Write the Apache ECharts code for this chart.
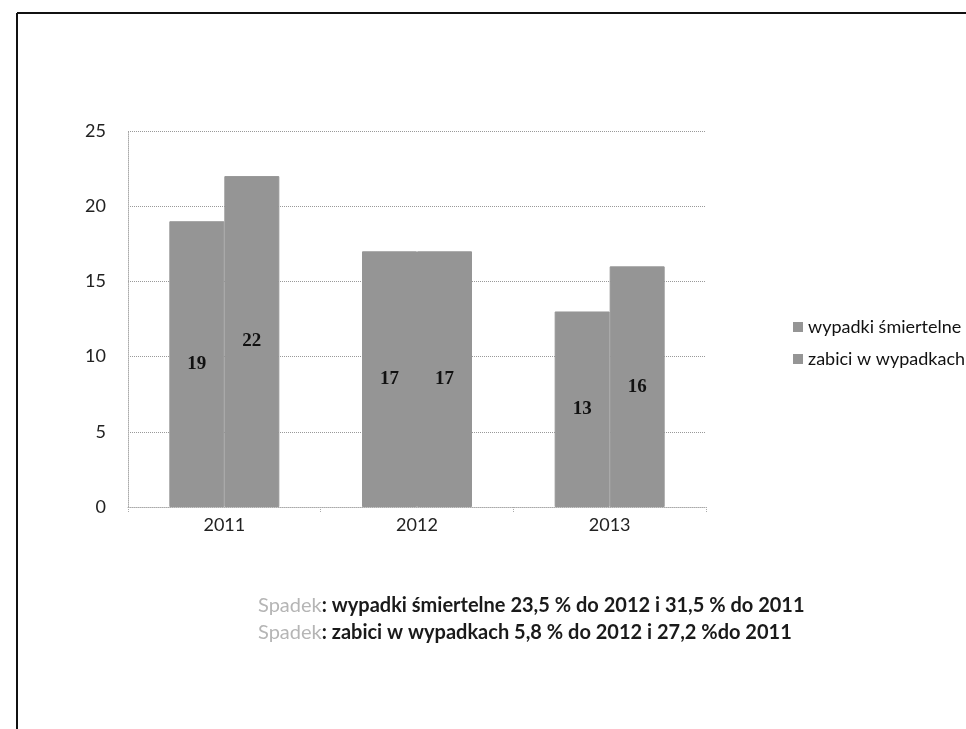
<!DOCTYPE html>
<html>
<head>
<meta charset="utf-8">
<script src="https://cdn.jsdelivr.net/npm/echarts@6/dist/echarts.min.js"></script>
<style>
  html, body { margin: 0; padding: 0; background: #fff; }
  #chart { width: 966px; height: 729px; }
</style>
</head>
<body>
<div id="chart"></div>
<script>
const years = ['2011', '2012', '2013'];
const wypadki = [19, 17, 13];
const zabici = [22, 17, 16];
const seriesNames = ['wypadki śmiertelne', 'zabici w wypadkach'];
const yTicks = { min: 0, max: 25, interval: 5 };

const chart = echarts.init(document.getElementById('chart'));

const barColor = '#959595';
const font = 'Lato, "Open Sans", sans-serif';

const barLabel = {
  show: true,
  position: 'inside',
  color: '#111',
  fontFamily: '"Liberation Serif", serif',
  fontWeight: 'bold',
  fontSize: 19
};

// the "Spadek" word is faint in the original, the rest is dark bold
const noteStyle = {
  g: { fill: '#b5b5b5', fontSize: 20, fontFamily: font },
  b: { fill: '#1a1a1a', fontSize: 20, fontWeight: 'bold', fontFamily: font }
};

const option = {
  backgroundColor: '#fff',
  animation: false,
  legend: {
    data: seriesNames,
    orient: 'vertical',
    left: 788,
    top: 313,
    itemWidth: 10,
    itemHeight: 10,
    itemGap: 14,
    icon: 'rect',
    itemStyle: { borderWidth: 0 },
    textStyle: { color: '#111', fontSize: 18, fontFamily: font }
  },
  grid: { left: 128, right: 260, top: 131, bottom: 222 },
  xAxis: {
    type: 'category',
    data: years,
    axisLine: { lineStyle: { color: '#aaa', type: 'dotted' } },
    axisTick: { show: true, lineStyle: { color: '#aaa', type: 'dotted' } },
    axisLabel: { color: '#222', fontSize: 18, fontFamily: font, margin: 9 }
  },
  yAxis: {
    type: 'value',
    min: yTicks.min,
    max: yTicks.max,
    interval: yTicks.interval,
    axisLine: { show: true, lineStyle: { color: '#aaa', type: 'dotted' } },
    axisTick: { show: false },
    axisLabel: { color: '#222', fontSize: 18, fontFamily: font, margin: 22 },
    splitLine: { lineStyle: { color: '#999', type: 'dotted' } }
  },
  series: [
    {
      name: seriesNames[0],
      type: 'bar',
      data: wypadki,
      barWidth: 55,
      barGap: '0%',
      itemStyle: { color: barColor, borderColor: barColor, borderWidth: 1 },
      label: barLabel
    },
    {
      name: seriesNames[1],
      type: 'bar',
      data: zabici,
      barWidth: 55,
      itemStyle: { color: barColor, borderColor: barColor, borderWidth: 1 },
      label: barLabel
    }
  ],
  graphic: [
    { type: 'line', shape: { x1: 17, y1: 13, x2: 966, y2: 13 }, style: { stroke: '#111', lineWidth: 2 } },
    { type: 'line', shape: { x1: 17, y1: 13, x2: 17, y2: 729 }, style: { stroke: '#111', lineWidth: 2 } },
    {
      type: 'text',
      left: 258,
      top: 596,
      style: {
        text: '{g|Spadek}{b|: wypadki śmiertelne 23,5 % do 2012 i 31,5 % do 2011}',
        rich: noteStyle
      }
    },
    {
      type: 'text',
      left: 258,
      top: 623,
      style: {
        text: '{g|Spadek}{b|: zabici w wypadkach 5,8 % do 2012 i 27,2 %do 2011}',
        rich: noteStyle
      }
    }
  ]
};

chart.setOption(option);
</script>
</body>
</html>
